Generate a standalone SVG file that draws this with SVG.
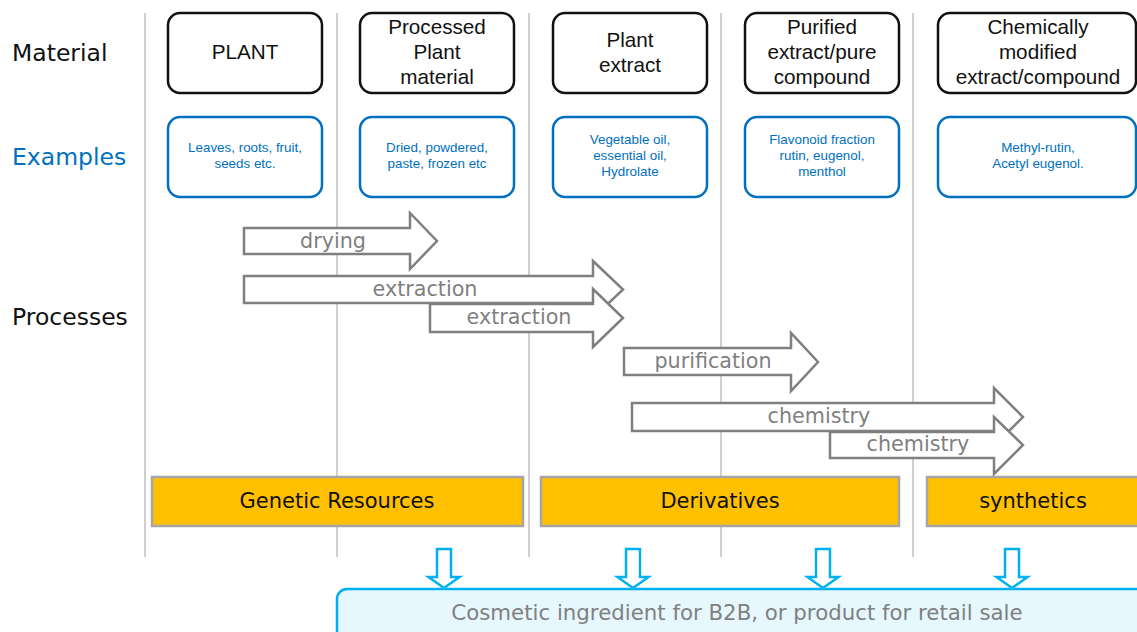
<svg xmlns="http://www.w3.org/2000/svg" width="1137" height="632" viewBox="0 0 1137 632">
<style>
.bg{fill:#ffffff}
.vline{stroke:#bfbfbf;stroke-width:1.5}
.lbl{font-family:"DejaVu Sans",Verdana,sans-serif;font-size:23.5px;fill:#111111}
.lblb{font-family:"DejaVu Sans",Verdana,sans-serif;font-size:23.5px;fill:#0070C0}
.mat{fill:#ffffff;stroke:#111111;stroke-width:2.5}
.matt{font-family:"Liberation Sans",Arial,sans-serif;font-size:20.7px;fill:#111111;text-anchor:middle}
.ex{fill:#ffffff;stroke:#0070C0;stroke-width:2.5}
.ext{font-family:"Liberation Sans",Arial,sans-serif;font-size:13.4px;fill:#0070C0;text-anchor:middle}
.arr{fill:#ffffff;stroke:#7f7f7f;stroke-width:2.5;stroke-linejoin:miter}
.arrt{font-family:"DejaVu Sans",Verdana,sans-serif;font-size:20.7px;fill:#7f7f7f;text-anchor:middle}
.bar{fill:#FFC000;stroke:#a6a6a6;stroke-width:2.5}
.bart{font-family:"DejaVu Sans",Verdana,sans-serif;font-size:21px;fill:#111111;text-anchor:middle}
.darr{fill:#ffffff;stroke:#00B0F0;stroke-width:2.5}
.cos{fill:#E6F8FE;stroke:#00B0F0;stroke-width:2.5}
.cost{font-family:"DejaVu Sans",Verdana,sans-serif;font-size:21.3px;fill:#808080;text-anchor:middle}
</style>
<defs>
<path id="down" d="M-7,549 H7 V577 H15.5 L0,588 L-15.5,577 H-7 Z"/>
</defs>
<rect class="bg" x="0" y="0" width="1137" height="632"/>

<g id="grid">
<line class="vline" x1="145" y1="13" x2="145" y2="557"/>
<line class="vline" x1="337" y1="13" x2="337" y2="557"/>
<line class="vline" x1="529" y1="13" x2="529" y2="557"/>
<line class="vline" x1="721" y1="13" x2="721" y2="557"/>
<line class="vline" x1="913" y1="13" x2="913" y2="557"/>
</g>

<g id="row-labels">
<text class="lbl" x="12" y="61">Material</text>
<text class="lblb" x="12" y="165">Examples</text>
<text class="lbl" x="12" y="325">Processes</text>
</g>

<g id="mat-plant">
<rect class="mat" x="168" y="13" width="154" height="80" rx="12"/>
<text class="matt" x="245" y="59">PLANT</text>
</g>
<g id="mat-processed">
<rect class="mat" x="360" y="13" width="154" height="80" rx="12"/>
<text class="matt" x="437" y="34">Processed</text>
<text class="matt" x="437" y="59">Plant</text>
<text class="matt" x="437" y="84">material</text>
</g>
<g id="mat-extract">
<rect class="mat" x="553" y="13" width="154" height="80" rx="12"/>
<text class="matt" x="630" y="47">Plant</text>
<text class="matt" x="630" y="72">extract</text>
</g>
<g id="mat-purified">
<rect class="mat" x="745" y="13" width="154" height="80" rx="12"/>
<text class="matt" x="822" y="34">Purified</text>
<text class="matt" x="822" y="59">extract/pure</text>
<text class="matt" x="822" y="84">compound</text>
</g>
<g id="mat-chem">
<rect class="mat" x="938" y="13" width="198" height="80" rx="12"/>
<text class="matt" x="1038" y="34">Chemically</text>
<text class="matt" x="1038" y="59">modified</text>
<text class="matt" x="1038" y="84">extract/compound</text>
</g>

<g id="ex-plant">
<rect class="ex" x="168" y="117" width="154" height="80" rx="12"/>
<text class="ext" x="245" y="152">Leaves, roots, fruit,</text>
<text class="ext" x="245" y="168">seeds etc.</text>
</g>
<g id="ex-processed">
<rect class="ex" x="360" y="117" width="154" height="80" rx="12"/>
<text class="ext" x="437" y="152">Dried, powdered,</text>
<text class="ext" x="437" y="168">paste, frozen etc</text>
</g>
<g id="ex-extract">
<rect class="ex" x="553" y="117" width="154" height="80" rx="12"/>
<text class="ext" x="630" y="144">Vegetable oil,</text>
<text class="ext" x="630" y="160">essential oil,</text>
<text class="ext" x="630" y="176">Hydrolate</text>
</g>
<g id="ex-purified">
<rect class="ex" x="745" y="117" width="154" height="80" rx="12"/>
<text class="ext" x="822" y="144">Flavonoid fraction</text>
<text class="ext" x="822" y="160">rutin, eugenol,</text>
<text class="ext" x="822" y="176">menthol</text>
</g>
<g id="ex-chem">
<rect class="ex" x="938" y="117" width="198" height="80" rx="12"/>
<text class="ext" x="1038" y="152">Methyl-rutin,</text>
<text class="ext" x="1038" y="168">Acetyl eugenol.</text>
</g>

<g id="proc-drying">
<path class="arr" d="M244,228 H410 V213 L437,241 L410,269 V254 H244 Z"/>
<text class="arrt" x="333" y="248">drying</text>
</g>
<g id="proc-extraction1">
<path class="arr" d="M244,276 H593 V261 L623,289.5 L593,318 V303 H244 Z"/>
<text class="arrt" x="425" y="296">extraction</text>
</g>
<g id="proc-extraction2">
<path class="arr" d="M430,304 H593 V289 L623,318 L593,347 V332 H430 Z"/>
<text class="arrt" x="519" y="324">extraction</text>
</g>
<g id="proc-purification">
<path class="arr" d="M624,348 H791 V333 L818,362 L791,391 V375 H624 Z"/>
<text class="arrt" x="713" y="368">purification</text>
</g>
<g id="proc-chemistry1">
<path class="arr" d="M632,403 H994 V388 L1023,417 L994,446 V431 H632 Z"/>
<text class="arrt" x="819" y="423">chemistry</text>
</g>
<g id="proc-chemistry2">
<path class="arr" d="M830,432 H994 V417 L1023,445 L994,474 V458 H830 Z"/>
<text class="arrt" x="918" y="451">chemistry</text>
</g>

<g id="cat-genetic">
<rect class="bar" x="152" y="477" width="371" height="49"/>
<text class="bart" x="337" y="508">Genetic Resources</text>
</g>
<g id="cat-derivatives">
<rect class="bar" x="541" y="477" width="358" height="49"/>
<text class="bart" x="720" y="508">Derivatives</text>
</g>
<g id="cat-synthetics">
<rect class="bar" x="927" y="477" width="215" height="49"/>
<text class="bart" x="1033" y="508">synthetics</text>
</g>

<g id="connectors">
<use href="#down" class="darr" x="444"/>
<use href="#down" class="darr" x="633"/>
<use href="#down" class="darr" x="823"/>
<use href="#down" class="darr" x="1012"/>
</g>

<g id="cosmetic">
<rect class="cos" x="337" y="589" width="830" height="70" rx="10"/>
<text class="cost" x="737" y="620">Cosmetic ingredient for B2B, or product for retail sale</text>
</g>
</svg>
